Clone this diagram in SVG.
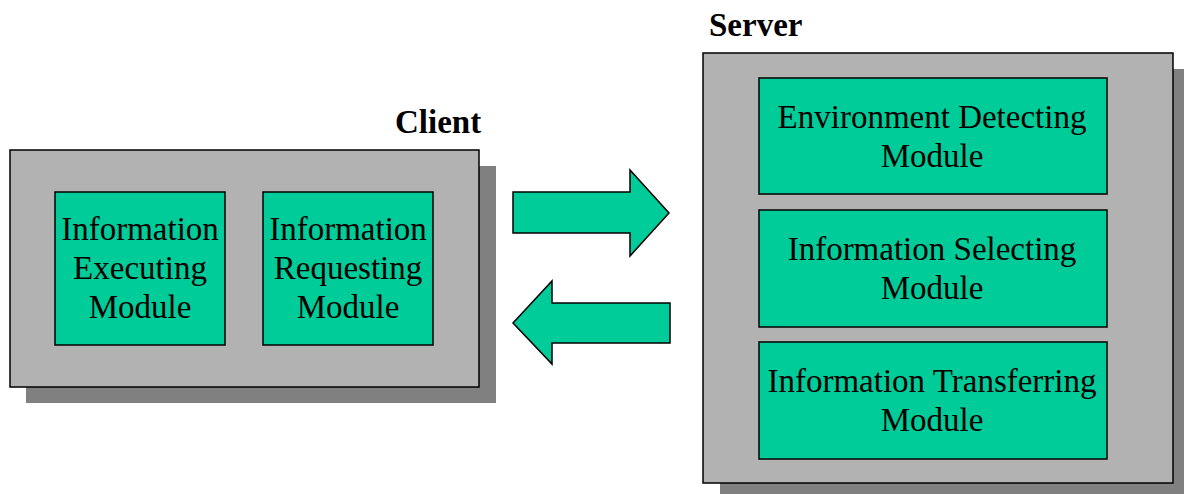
<svg xmlns="http://www.w3.org/2000/svg" width="1184" height="494" viewBox="0 0 1184 494">
<style>
.shadow{fill:#808080;stroke:none}
.panel{fill:#B2B2B2;stroke:#000;stroke-width:1.5}
.mod{fill:#00CC99;stroke:#000;stroke-width:1.5}
.t{font-family:"Liberation Serif","Times New Roman",serif;font-size:33px;fill:#000;text-anchor:middle}
.title{font-family:"Liberation Serif","Times New Roman",serif;font-size:33px;font-weight:bold;fill:#000}
.arrow{fill:#00CC99;stroke:#000;stroke-width:1.5;stroke-linejoin:miter}
</style>
<rect width="1184" height="494" fill="#fff"/>
<g id="client">
<rect class="shadow" x="26" y="166" width="470" height="237"/>
<rect class="panel" x="10" y="150" width="469" height="237"/>
<text class="title" x="395" y="133">Client</text>
</g>
<g id="info-executing">
<rect class="mod" x="55" y="192" width="170" height="153"/>
<text class="t" x="140" y="240">Information</text>
<text class="t" x="140" y="279">Executing</text>
<text class="t" x="140" y="318">Module</text>
</g>
<g id="info-requesting">
<rect class="mod" x="263" y="192" width="170" height="153"/>
<text class="t" x="348" y="240">Information</text>
<text class="t" x="348" y="279">Requesting</text>
<text class="t" x="348" y="318">Module</text>
</g>
<g id="server">
<rect class="shadow" x="720" y="69" width="470" height="430"/>
<rect class="panel" x="703" y="53" width="470" height="430"/>
<text class="title" x="709" y="36">Server</text>
</g>
<g id="env-detecting">
<rect class="mod" x="759" y="78" width="348" height="116"/>
<text class="t" x="932" y="128">Environment Detecting</text>
<text class="t" x="932" y="167">Module</text>
</g>
<g id="info-selecting">
<rect class="mod" x="759" y="210" width="348" height="117"/>
<text class="t" x="932" y="260">Information Selecting</text>
<text class="t" x="932" y="299">Module</text>
</g>
<g id="info-transferring">
<rect class="mod" x="759" y="342" width="348" height="117"/>
<text class="t" x="932" y="392">Information Transferring</text>
<text class="t" x="932" y="431">Module</text>
</g>
<g id="connectors">
<polygon class="arrow" points="513,192 630,192 630,170 669,213 630,256 630,233 513,233"/>
<polygon class="arrow" points="670,303 552,303 552,281 513,323 552,364 552,343 670,343"/>
</g>
</svg>
